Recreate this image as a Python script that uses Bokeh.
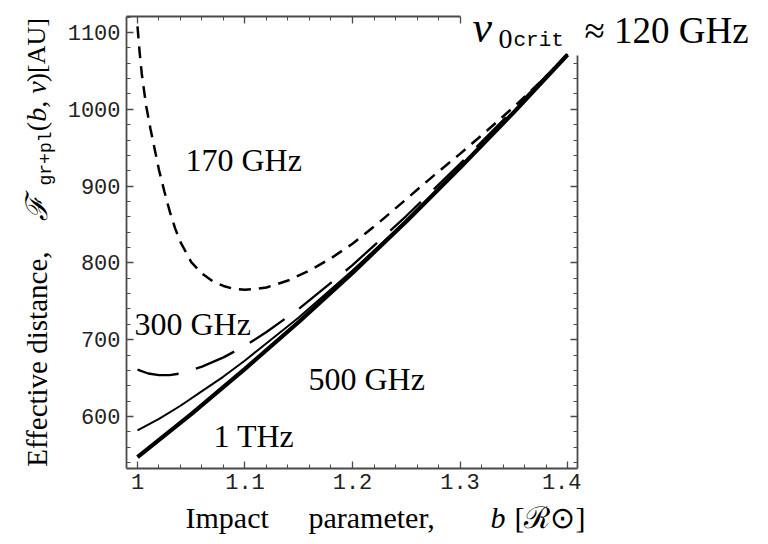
import math
from bokeh.plotting import figure
from bokeh.layouts import row, column
from bokeh.models import Label, LinearAxis, FixedTicker, Range1d
from bokeh.embed import file_html
from bokeh.resources import INLINE

# ---------------- data ----------------
b_1thz = [1.00, 1.05, 1.10, 1.15, 1.20, 1.25, 1.30, 1.35, 1.40]
f_1thz = [547, 603, 662, 723, 787, 854, 924, 996, 1071]

b_500ghz = [1.00, 1.02, 1.04, 1.06, 1.08, 1.10, 1.15, 1.20, 1.25, 1.30, 1.35, 1.40]
f_500ghz = [582, 597, 614, 633, 652, 673, 729, 790, 855, 925, 997, 1071]

b_300ghz = [1.00, 1.01, 1.02, 1.03, 1.04, 1.06, 1.08, 1.10, 1.12, 1.15, 1.20, 1.25, 1.30, 1.35, 1.40]
f_300ghz = [661, 656, 654, 654, 656, 665, 677, 692, 710, 740, 797, 861, 929, 1000, 1072]

b_170ghz = [1.000, 1.002, 1.004, 1.008, 1.012, 1.016, 1.020, 1.025, 1.030, 1.035, 1.040,
            1.050, 1.060, 1.070, 1.080, 1.090, 1.100, 1.110, 1.120, 1.140, 1.160, 1.180,
            1.200, 1.225, 1.250, 1.275, 1.300, 1.325, 1.350, 1.375, 1.400]
f_170ghz = [1108, 1074, 1046, 1005, 975, 948, 921, 893, 867, 845, 827,
            801, 786, 776, 770, 766, 765, 766, 768, 777, 790, 806,
            825, 853, 883, 913, 942, 972, 1003, 1036, 1071]

x_ticks = [1.0, 1.1, 1.2, 1.3, 1.4]
x_tick_labels = ["1", "1.1", "1.2", "1.3", "1.4"]
x_minor = [1.02, 1.04, 1.06, 1.08, 1.12, 1.14, 1.16, 1.18, 1.22, 1.24, 1.26, 1.28,
           1.32, 1.34, 1.36, 1.38]
y_ticks = [600, 700, 800, 900, 1000, 1100]
y_minor = [540, 560, 580, 620, 640, 660, 680, 720, 740, 760, 780, 820, 840, 860, 880,
           920, 940, 960, 980, 1020, 1040, 1060, 1080, 1120]

# ---------------- geometry ----------------
W_TOTAL, H_TOTAL = 768, 544
YW = 56                          # width of the strip holding the y-axis title
BL, BT, BR, BB = 70, 16, 4, 32   # borders of the main plot
FW, FH = 451, 452
MAIN_W = BL + FW + BR
MAIN_H = BT + FH + BB
RX0 = YW + MAIN_W                # left edge of right strip (page px)
RW = W_TOTAL - RX0
BH = H_TOTAL - MAIN_H

X0, X1 = 0.98977, 1.40930
Y0, Y1 = 532.29, 1120.83
TOP_END, RIGHT_END = 1.3005, 1070   # where the title interrupts the frame

# ---------------- main figure ----------------
p = figure(frame_width=FW, frame_height=FH, x_range=Range1d(X0, X1), y_range=Range1d(Y0, Y1),
           output_backend="svg", toolbar_location=None, title=None,
           x_axis_type=None, y_axis_type=None,
           min_border_left=BL, min_border_right=BR, min_border_top=BT, min_border_bottom=BB)
p.outline_line_color = None
p.background_fill_color = "white"
p.border_fill_color = "white"
p.align = "start"

AX = "#4a4a4a"


def make_axis(ticks, minor, show_labels, bounds="auto"):
    ax = LinearAxis(ticker=FixedTicker(ticks=ticks, minor_ticks=minor), bounds=bounds)
    ax.axis_line_color = AX
    ax.axis_line_width = 1.8
    ax.major_tick_in = 7
    ax.major_tick_out = 0
    ax.minor_tick_in = 4
    ax.minor_tick_out = 0
    ax.major_tick_line_color = AX
    ax.minor_tick_line_color = AX
    ax.major_tick_line_width = 1.3
    ax.minor_tick_line_width = 1
    if show_labels:
        ax.major_label_text_font = "Liberation Mono"
        ax.major_label_text_font_size = "22px"
        ax.major_label_text_color = "#222222"
    else:
        ax.major_label_text_font_size = "2px"
        ax.major_label_text_color = None
        ax.major_label_standoff = 0
    return ax


xb = make_axis(x_ticks, x_minor, True)
xb.major_label_overrides = dict(zip(x_ticks, x_tick_labels))
xb.major_label_standoff = 5
p.add_layout(xb, "below")

yl = make_axis(y_ticks, y_minor, True)
yl.major_label_standoff = 6
p.add_layout(yl, "left")

xt = make_axis([t for t in x_ticks if t <= TOP_END], [t for t in x_minor if t <= TOP_END],
               False, bounds=(X0, TOP_END))
p.add_layout(xt, "above")

yr = make_axis([t for t in y_ticks if t <= RIGHT_END], [t for t in y_minor if t <= RIGHT_END],
               False, bounds=(Y0, RIGHT_END))
p.add_layout(yr, "right")

p.line(b_1thz, f_1thz, line_color="black", line_width=4.2)
p.line(b_500ghz, f_500ghz, line_color="black", line_width=2.0)
p.line(b_300ghz, f_300ghz, line_color="black", line_width=2.3, line_dash="42 18")
p.line(b_170ghz, f_170ghz, line_color="black", line_width=2.5, line_dash="12 8")


def px2x(px):
    return 1 + (px - 137) / 1075.0


def py2y(py):
    return 600 + (416 - py) / 0.768


MID = 0.32   # distance from the text's middle to its baseline, in font sizes


def mk(fig, x, y, text, size, font="Liberation Serif", style="normal", angle=0.0,
       align="left"):
    fig.add_layout(Label(x=x, y=y, text=text, text_font=font,
                         text_font_size=f"{size}px", text_font_style=style,
                         text_color="black", text_align=align, text_baseline="middle",
                         angle=angle))


def lab(px, py_base, text, size, **kw):
    # py_base: wanted baseline (page px)
    mk(p, px2x(px), py2y(py_base - MID * size), text, size, **kw)


lab(185, 170, "170 GHz", 32)
lab(134, 334, "300 GHz", 32)
lab(308, 389, "500 GHz", 32)
lab(213, 446, "1 THz", 32)
# left part of the title (inside the frame area)
lab(472, 41, "ν", 44, style="italic")
lab(498, 47, "0", 28)
lab(513, 47, "crit", 21, font="Liberation Mono")


# ---------------- text strips (data units = page px) ----------------
def strip(w, x0, top, fh, bottom, y_top):
    f = figure(frame_width=w, frame_height=fh, x_range=Range1d(x0, x0 + w),
               y_range=Range1d(y_top + fh, y_top), output_backend="svg",
               toolbar_location=None, title=None, x_axis_type=None, y_axis_type=None,
               min_border_left=0, min_border_right=0, min_border_top=top,
               min_border_bottom=bottom)
    f.outline_line_color = None
    f.background_fill_color = "white"
    f.border_fill_color = "white"
    f.align = "start"
    return f


def slab(fig, px, py_base, text, size, **kw):
    mk(fig, px, py_base - MID * size, text, size, **kw)


# y-axis title (rotated, each piece placed by its centre); same vertical borders as main plot
ys = strip(YW, 0, BT, FH, BB, BT)
R = math.pi / 2


def ylab(x, y, text, size, **kw):
    mk(ys, x, y, text, size, angle=R, align="center", **kw)


ylab(36, 355, "Effective  distance,", 29)
ylab(36, 208, "ℱ", 30, font="DejaVu Serif", style="italic")
ylab(45, 158, "gr+pl", 18, font="Liberation Mono")
ylab(36, 126, "(", 28)
ylab(36, 101, "b, ν", 28, style="italic")
ylab(36, 77, ")", 28)
ylab(36, 45, "[AU]", 26)

# right part of the title; same vertical borders as main plot
rs = strip(RW, RX0, BT, FH, BB, BT)
slab(rs, RX0 + 3, 42, "≈ 120 GHz", 37)

# x-axis title
bs = strip(W_TOTAL, 0, 0, BH, 0, MAIN_H)
slab(bs, 185, 527, "Impact", 30)
slab(bs, 308, 527, "parameter,", 30)
slab(bs, 490, 527, "b", 30, style="italic")
slab(bs, 514, 527, "[ℛ⊙]", 30)

layout = column(row(ys, p, rs), bs)
open("out.html", "w").write(file_html(layout, INLINE))
